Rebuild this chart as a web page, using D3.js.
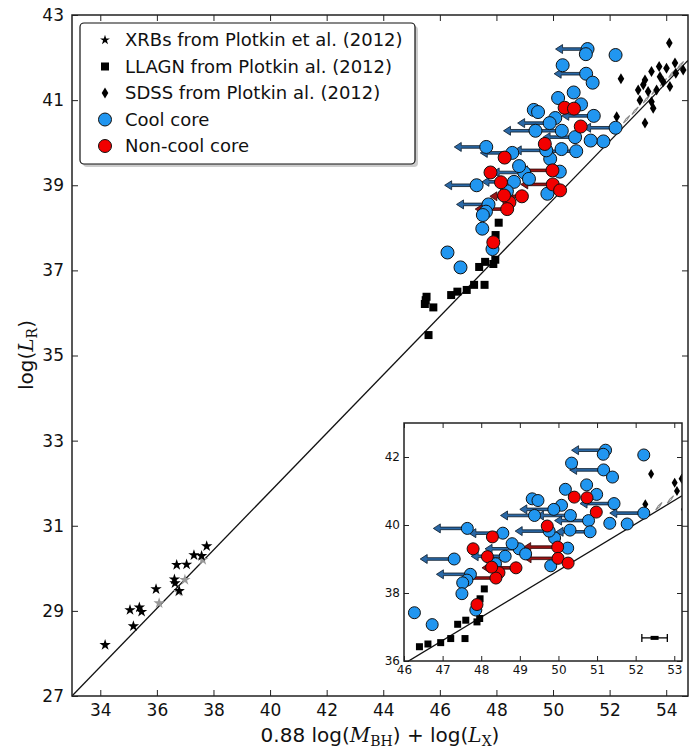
<!DOCTYPE html>
<html>
<head>
<meta charset="utf-8">
<script src="https://cdn.jsdelivr.net/npm/d3@7"></script>
<style>
  body { margin: 0; background: #fff; }
  svg { display: block; }
  text { font-family: "DejaVu Sans", sans-serif; fill: #111; }
</style>
</head>
<body>
<div id="chart"></div>
<script>
// --- data ---
const xrbs = [[34.17, 28.20], [35.17, 28.64], [35.05, 29.02], [35.38, 29.08], [35.46, 28.98],
  [35.97, 29.51], [36.62, 29.74], [36.64, 29.65], [36.79, 29.47], [36.70, 30.08],
  [37.05, 30.09], [37.31, 30.31], [37.58, 30.29], [37.76, 30.52]];
const xrbsGray = [[36.08, 29.18], [36.76, 29.45], [36.99, 29.73], [37.62, 30.20]];
const llagn = [[45.53, 36.38], [45.47, 36.21], [45.77, 36.13], [45.60, 35.48], [45.50, 36.30],
  [46.40, 36.42], [46.62, 36.50], [46.95, 36.54], [47.21, 36.66], [47.39, 37.08],
  [47.58, 36.66], [47.60, 37.20], [47.89, 37.15], [47.97, 37.83], [48.08, 38.12], [47.96, 37.25]];
const sdss = [[54.11, 42.34], [52.40, 41.50], [52.25, 40.61], [53.25, 40.46], [53.48, 41.67],
  [53.75, 41.79], [54.01, 41.75], [54.31, 41.87], [54.60, 41.71], [54.13, 41.32],
  [53.01, 41.24], [53.19, 41.36], [53.36, 41.20], [53.07, 41.00], [53.48, 40.96],
  [53.54, 40.81], [53.78, 41.55], [53.89, 41.43], [53.66, 41.24], [53.25, 41.47], [54.34, 41.63]];
const sdssGray = [[52.6, 40.55], [52.9, 40.75], [53.3, 41.02], [53.6, 41.22], [53.9, 41.42],
  [54.2, 41.62], [54.5, 41.82]];
// [x, y, upper limit on x]
const coolCore = [[51.22, 42.20, 1], [51.16, 42.08, 0], [52.21, 42.06, 0], [50.34, 41.82, 0],
  [51.17, 41.62, 1], [51.40, 41.41, 0], [50.73, 41.18, 0], [50.18, 41.05, 0], [50.99, 40.90, 0],
  [51.44, 40.63, 1], [50.08, 40.58, 0], [49.88, 40.46, 1], [49.32, 40.77, 0], [49.47, 40.72, 0],
  [49.38, 40.28, 1], [50.31, 40.28, 1], [52.21, 40.35, 1], [51.78, 40.03, 0], [51.33, 40.05, 0],
  [50.78, 40.13, 1], [50.82, 39.80, 1], [49.90, 39.62, 0], [50.30, 39.85, 0], [50.24, 39.32, 0],
  [49.80, 38.80, 0], [49.76, 39.82, 1], [48.56, 39.76, 1], [47.64, 39.90, 1], [47.30, 39.00, 1],
  [48.98, 39.30, 1], [48.80, 39.45, 0], [49.15, 39.15, 0], [48.62, 39.08, 1], [48.37, 38.86, 0],
  [47.72, 38.55, 1], [47.63, 38.38, 0], [47.52, 38.30, 0], [47.50, 37.98, 0], [47.86, 37.50, 0],
  [46.27, 37.42, 0], [46.73, 37.07, 0]];
const nonCoolCore = [[50.41, 40.82, 0], [50.74, 40.80, 0], [50.98, 40.38, 0], [49.71, 39.97, 0],
  [48.29, 39.65, 0], [47.79, 39.30, 0], [49.98, 39.35, 1], [49.99, 39.02, 1], [50.25, 38.88, 0],
  [48.16, 39.07, 0], [48.90, 38.74, 1], [48.46, 38.60, 0], [48.38, 38.44, 1], [48.27, 38.76, 0],
  [47.89, 37.66, 0]];
const fitSlope = 0.686, fitX0 = 33, fitY0 = 27;
const typicalErr = { x: 52.49, y: 36.68, xerr: 0.33 };
const mainXTicks = [34, 36, 38, 40, 42, 44, 46, 48, 50, 52, 54];
const mainYTicks = [27, 29, 31, 33, 35, 37, 39, 41, 43];
const insetXTicks = [46, 47, 48, 49, 50, 51, 52, 53];
const insetYTicks = [36, 38, 40, 42];
const legendLabels = ["XRBs from Plotkin et al. (2012)", "LLAGN from Plotkin al. (2012)",
  "SDSS from Plotkin al. (2012)", "Cool core", "Non-cool core"];

const W = 689, H = 751;
const blue = "#2196f0", red = "#f20000";

const svg = d3.select("#chart").append("svg").attr("width", W).attr("height", H);

const thinDiamond = s => `M0,${-s}L${s * 0.6},0L0,${s}L${-s * 0.6},0Z`;
const star = d3.symbol().type(d3.symbolStar);

// draws one panel (main or inset)
function panel(g, x, y, opt) {
  const [x0, x1] = x.range(), [y0, y1] = y.range();
  const id = opt.id;
  g.append("rect").attr("x", x0).attr("y", y1).attr("width", x1 - x0).attr("height", y0 - y1)
    .attr("fill", "#fff");
  g.append("clipPath").attr("id", id).append("rect")
    .attr("x", x0).attr("y", y1).attr("width", x1 - x0).attr("height", y0 - y1);
  const p = g.append("g").attr("clip-path", `url(#${id})`);

  // fit line
  const xd = x.domain();
  p.append("line")
    .attr("x1", x(xd[0])).attr("y1", y(fitY0 + fitSlope * (xd[0] - fitX0)))
    .attr("x2", x(xd[1])).attr("y2", y(fitY0 + fitSlope * (xd[1] - fitX0)))
    .attr("stroke", "#111").attr("stroke-width", 1.3);

  // gray markers
  p.selectAll(".gs").data(xrbsGray).join("path")
    .attr("transform", d => `translate(${x(d[0])},${y(d[1])})`)
    .attr("d", star.size(opt.starSize)).attr("fill", "#999");
  p.selectAll(".gd").data(sdssGray).join("path")
    .attr("transform", d => `translate(${x(d[0])},${y(d[1])}) rotate(40)`)
    .attr("d", `M0,-5L0.8,0L0,5L-0.8,0Z`).attr("fill", "none").attr("stroke", "#888").attr("stroke-width", 1);

  p.selectAll(".xrb").data(xrbs).join("path")
    .attr("transform", d => `translate(${x(d[0])},${y(d[1])})`)
    .attr("d", star.size(opt.starSize)).attr("fill", "#000");
  p.selectAll(".sq").data(llagn).join("rect")
    .attr("x", d => x(d[0]) - opt.sq / 2).attr("y", d => y(d[1]) - opt.sq / 2)
    .attr("width", opt.sq).attr("height", opt.sq).attr("fill", "#000");
  p.selectAll(".dm").data(sdss).join("path")
    .attr("transform", d => `translate(${x(d[0])},${y(d[1])})`)
    .attr("d", thinDiamond(opt.dm)).attr("fill", "#000");

  // upper-limit arrows (fixed screen length)
  const L = opt.arrow, hl = 7, hw = 4.5, w = 1.3;
  const arrowPath = d => {
    const cx = x(d[0]), cy = y(d[1]), t = cx - L;
    return `M${cx},${cy - w}L${t + hl},${cy - w}L${t + hl},${cy - hw}L${t},${cy}` +
      `L${t + hl},${cy + hw}L${t + hl},${cy + w}L${cx},${cy + w}Z`;
  };
  p.selectAll(".ab").data(coolCore.filter(d => d[2])).join("path")
    .attr("d", arrowPath).attr("fill", "#2a68a6").attr("stroke", "#0a1a2a").attr("stroke-width", 0.8);
  p.selectAll(".ar").data(nonCoolCore.filter(d => d[2])).join("path")
    .attr("d", arrowPath).attr("fill", "#9a1414").attr("stroke", "#2a0505").attr("stroke-width", 0.8);

  p.selectAll(".cc").data(coolCore).join("circle")
    .attr("cx", d => x(d[0])).attr("cy", d => y(d[1])).attr("r", opt.r)
    .attr("fill", blue).attr("stroke", "#111").attr("stroke-width", 1);
  p.selectAll(".nc").data(nonCoolCore).join("circle")
    .attr("cx", d => x(d[0])).attr("cy", d => y(d[1])).attr("r", opt.r)
    .attr("fill", red).attr("stroke", "#111").attr("stroke-width", 1);

  // axes with inward ticks
  const fs = opt.fontSize, fmt = d3.format("d");
  const ax = [
    [d3.axisBottom(x).tickValues(opt.xt).tickFormat(fmt), `translate(0,${y0})`],
    [d3.axisTop(x).tickValues(opt.xt).tickFormat(""), `translate(0,${y1})`],
    [d3.axisLeft(y).tickValues(opt.yt).tickFormat(fmt), `translate(${x0},0)`],
    [d3.axisRight(y).tickValues(opt.yt).tickFormat(""), `translate(${x1},0)`]
  ];
  ax.forEach(([a, tr]) => {
    const ga = g.append("g").attr("transform", tr)
      .call(a.tickSizeInner(-opt.tick).tickSizeOuter(0).tickPadding(opt.pad));
    ga.select(".domain").remove();
    ga.selectAll("line").attr("stroke", "#222").attr("stroke-width", 1);
    ga.selectAll("text").attr("font-size", fs).attr("font-family", "DejaVu Sans").attr("fill", "#111");
  });
  g.append("rect").attr("x", x0).attr("y", y1).attr("width", x1 - x0).attr("height", y0 - y1)
    .attr("fill", "none").attr("stroke", "#222").attr("stroke-width", 1.5);
  return p;
}

// main panel
const x = d3.scaleLinear().domain([33, 54.77]).range([72, 688]);
const y = d3.scaleLinear().domain([27, 43]).range([696, 15]);
panel(svg.append("g"), x, y, {
  id: "clipMain", xt: mainXTicks, yt: mainYTicks, fontSize: 17, tick: 6, pad: 8,
  r: 6.5, sq: 8, dm: 5.5, starSize: 40, arrow: 32
});

// legend
const lg = svg.append("g");
lg.append("rect").attr("x", 83).attr("y", 26).attr("width", 335).attr("height", 141).attr("rx", 4)
  .attr("fill", "#999").attr("opacity", 0.5);
lg.append("rect").attr("x", 80).attr("y", 23).attr("width", 335).attr("height", 141).attr("rx", 4)
  .attr("fill", "#fff").attr("stroke", "#111").attr("stroke-width", 1.2);
const rowY = d3.scalePoint().domain(legendLabels).range([40, 146]);
const mk = 105;
lg.append("path").attr("transform", `translate(${mk},${rowY(legendLabels[0])})`)
  .attr("d", star.size(30)).attr("fill", "#000");
lg.append("rect").attr("x", mk - 4).attr("y", rowY(legendLabels[1]) - 4).attr("width", 8).attr("height", 8).attr("fill", "#000");
lg.append("path").attr("transform", `translate(${mk},${rowY(legendLabels[2])})`)
  .attr("d", thinDiamond(5.5)).attr("fill", "#000");
lg.append("circle").attr("cx", mk).attr("cy", rowY(legendLabels[3])).attr("r", 6.5)
  .attr("fill", blue).attr("stroke", "#111");
lg.append("circle").attr("cx", mk).attr("cy", rowY(legendLabels[4])).attr("r", 6.5)
  .attr("fill", red).attr("stroke", "#111");
lg.selectAll(".lt").data(legendLabels).join("text")
  .attr("x", 125).attr("y", d => rowY(d)).attr("dy", "0.36em")
  .attr("font-size", 18).text(d => d);

// axis labels
const xl = svg.append("text").attr("x", 380).attr("y", 742).attr("text-anchor", "middle").attr("font-size", 20);
xl.append("tspan").text("0.88 log(");
xl.append("tspan").attr("font-family", "DejaVu Serif").attr("font-style", "italic").text("M");
xl.append("tspan").attr("font-family", "DejaVu Serif").attr("font-size", 14).attr("dy", 4).text("BH");
xl.append("tspan").attr("dy", -4).text(") + log(");
xl.append("tspan").attr("font-family", "DejaVu Serif").attr("font-style", "italic").text("L");
xl.append("tspan").attr("font-family", "DejaVu Serif").attr("font-size", 14).attr("dy", 4).text("X");
xl.append("tspan").attr("dy", -4).text(")");

const yl = svg.append("text").attr("transform", "translate(33,355) rotate(-90)")
  .attr("text-anchor", "middle").attr("font-size", 20);
yl.append("tspan").text("log(");
yl.append("tspan").attr("font-family", "DejaVu Serif").attr("font-style", "italic").text("L");
yl.append("tspan").attr("font-family", "DejaVu Serif").attr("font-size", 14).attr("dy", 4).text("R");
yl.append("tspan").attr("dy", -4).text(")");

// inset
const x2 = d3.scaleLinear().domain([46, 53.2]).range([404, 682]);
const y2 = d3.scaleLinear().domain([36, 43]).range([661, 423]);
const ins = panel(svg.append("g"), x2, y2, {
  id: "clipInset", xt: insetXTicks, yt: insetYTicks, fontSize: 12, tick: 5, pad: 4,
  r: 6, sq: 7, dm: 5, starSize: 35, arrow: 34
});
// representative error bar
const ex0 = x2(typicalErr.x - typicalErr.xerr), ex1 = x2(typicalErr.x + typicalErr.xerr), ey = y2(typicalErr.y);
ins.append("line").attr("x1", ex0).attr("x2", ex1).attr("y1", ey).attr("y2", ey).attr("stroke", "#000").attr("stroke-width", 1.3);
[ex0, ex1].forEach(e => ins.append("line").attr("x1", e).attr("x2", e).attr("y1", ey - 4).attr("y2", ey + 4)
  .attr("stroke", "#000").attr("stroke-width", 1.3));
ins.append("rect").attr("x", x2(typicalErr.x) - 4).attr("y", ey - 2).attr("width", 8).attr("height", 4).attr("fill", "#000");
</script>
</body>
</html>
